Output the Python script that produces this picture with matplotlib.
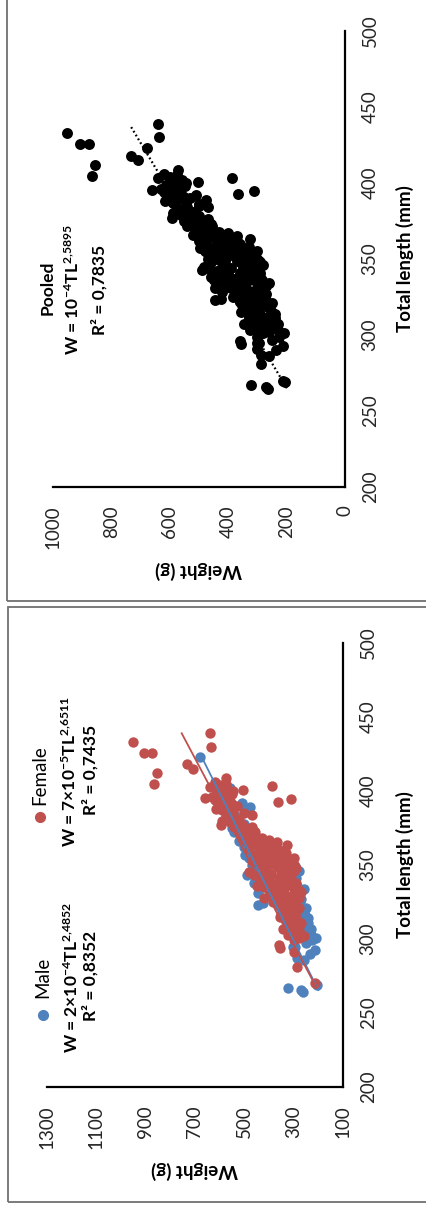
import matplotlib
matplotlib.use('Agg')
import matplotlib.pyplot as plt
from matplotlib.patches import Rectangle
from matplotlib.lines import Line2D

plt.rcParams['font.family'] = ['Lato', 'DejaVu Sans']
plt.rcParams['mathtext.default'] = 'regular'

# ---------------- data (length in mm, weight in g) ----------------
female_L = [433, 425.5, 425.5, 412, 404.6, 418, 415, 439, 430, 408.6, 400.4, 403.5, 392.6,
            394.7, 395.4, 376.8, 365.3, 363.2,
            406, 404, 403, 401, 399, 398, 396, 395, 393, 392, 390, 389, 388, 386, 385, 384,
            382, 381, 380, 378, 377, 376, 374, 373, 372, 370, 369, 368, 367, 366, 365, 364, 363,
            361, 360, 360, 359, 358, 357, 356, 355, 355, 354, 353, 352, 351, 350, 349, 348, 347,
            346, 345, 344, 343, 342, 341,
            340, 339, 338, 337, 336, 335, 334, 333, 332, 331, 330, 329, 328, 327, 326, 325, 324,
            323, 322, 321, 320,
            318, 317, 315, 314, 312, 311, 309, 307, 305, 303, 301, 299, 296,
            294, 281, 270, 291,
            405, 402, 400, 397, 394, 391, 387, 383, 381, 379,
            379, 376, 375, 373, 371, 369, 367, 366, 364, 362, 361, 362,
            359, 358, 357, 356, 355, 354, 353, 352, 351, 350, 349, 348, 347, 346, 345, 344, 343,
            342, 341,
            339, 338, 337, 336, 335, 334, 333, 332, 331, 330, 329, 328, 327, 326, 325, 324, 322,
            321,
            319, 316, 313, 310, 308, 306, 304, 302]
female_W = [953, 908, 876, 856, 867, 733, 708, 641, 636, 573, 504, 386, 365,
            311, 660, 594, 369, 327,
            620, 598, 640, 575, 612, 548, 630, 585, 560, 605, 530, 575, 615, 545, 500, 470,
            560, 520, 590, 545, 505, 470, 530, 490, 455, 515, 475, 430, 400, 495, 450, 420, 390,
            480, 440, 360, 410, 330, 460, 385, 300, 430, 350, 470, 405, 320, 440, 370, 290, 415,
            340, 483, 390, 310, 440, 360,
            420, 330, 290, 380, 450, 350, 300, 400, 270, 340, 375, 310, 420, 350, 290, 385, 330,
            300, 360, 280, 340,
            310, 350, 355, 290, 330, 270, 310, 345, 290, 325, 280, 300, 360,
            355, 288, 213, 300,
            575, 600, 545, 590, 620, 550, 590, 575, 540, 520,
            560, 540, 500, 460, 480, 510, 450, 420, 470, 440, 410, 370,
            380, 440, 350, 410, 370, 320, 440, 380, 350, 300, 410, 360, 330, 300, 420, 350, 460,
            330, 400,
            360, 410, 300, 330, 420, 370, 280, 350, 390, 300, 350, 280, 320, 370, 300, 350, 320,
            300,
            290, 320, 310, 290, 330, 280, 300, 260]

male_L = [423, 402, 396, 389, 384, 378, 372, 366, 357, 350, 343, 338, 331, 324, 323,
          353, 349, 345, 340, 336, 330, 325, 319.6, 318.5, 314, 309.5, 305, 303, 299, 297,
          294.8, 294.6, 292.6, 290, 287, 286, 269, 267, 265.5, 264.4,
          398, 392, 386, 380, 375, 369, 362, 355, 348, 346, 341, 334, 327, 321, 316, 311,
          307, 301]
male_W = [679, 558, 600, 477, 540, 500, 540, 520, 497, 470, 490, 460, 445, 424, 445,
          355, 295, 300, 308, 285, 290, 275, 266, 262, 240, 267, 250, 230, 226, 250,
          295, 303, 213, 235, 288, 260, 207, 321, 270, 262,
          570, 510, 500, 540, 550, 500, 500, 480, 460, 280, 290, 260, 270, 250, 255, 240,
          230, 210]

pooled_L = male_L + female_L
pooled_W = male_W + female_W

# trend lines (end points)
pooled_trend_L = [265, 438]
pooled_trend_W = [199, 736]
female_trend_L = [267, 439]
female_trend_W = [207, 754]
male_trend_L = [265.5, 423]
male_trend_W = [200, 673]

length_ticks = [200, 250, 300, 350, 400, 450, 500]
weight_ticks_pooled = [0, 200, 400, 600, 800, 1000]
weight_ticks_sex = [100, 300, 500, 700, 900, 1100, 1300]

male_label = 'Male'
female_label = 'Female'
male_eq = r'W = 2×10$^{-4}$TL$^{2{,}4852}$'
male_r2 = 'R² = 0,8352'
female_eq = r'W = 7×10$^{-5}$TL$^{2{,}6511}$'
female_r2 = 'R² = 0,7435'
pooled_lines = ['Pooled', r'W = 10$^{-4}$TL$^{2{,}5895}$', 'R² = 0,7835']

BLUE = '#4F81BD'
RED = '#C0504D'

# ---------------- figure ----------------
W_PX, H_PX = 427, 1214
fig = plt.figure(figsize=(W_PX / 100, H_PX / 100), dpi=100)


def fx(px):
    return px / W_PX


def fy(py):
    return 1 - py / H_PX


# panel frames
for (x0, y0, x1, y1) in [(7, -10, 440, 601), (8, 607, 440, 1202)]:
    fig.add_artist(Rectangle((fx(x0), fy(y1)), fx(x1) - fx(x0), fy(y0) - fy(y1),
                             transform=fig.transFigure, fill=False,
                             edgecolor='#707070', linewidth=1.3))

ax1 = fig.add_axes([fx(53), fy(487), fx(345) - fx(53), fy(31) - fy(487)])
ax2 = fig.add_axes([fx(47), fy(1087), fx(343) - fx(47), fy(643) - fy(1087)])

TICK_FS = 13.5
LAB_FS = 13.5


def style(ax, wlim, wticks):
    ax.set_xlim(*wlim)
    ax.set_ylim(200, 500)
    ax.set_xticks(wticks)
    ax.set_yticks(length_ticks)
    ax.yaxis.tick_right()
    ax.patch.set_alpha(0)
    for s in ['top', 'left']:
        ax.spines[s].set_visible(False)
    for s in ['bottom', 'right']:
        ax.spines[s].set_linewidth(1.6)
        ax.spines[s].set_color('black')
    ax.tick_params(axis='x', length=0, pad=13, labelsize=TICK_FS, labelrotation=90,
                   colors='#262626')
    ax.tick_params(axis='y', length=0, pad=12, labelsize=TICK_FS, labelrotation=90,
                   colors='#262626')
    plt.setp(ax.get_yticklabels(), va='center')
    ax.set_xlabel('Weight (g)', fontsize=LAB_FS, fontweight='bold', rotation=180)
    ax.xaxis.label.set_va('center')
    ax.yaxis.set_label_position('right')
    ax.set_ylabel('Total length (mm)', fontsize=LAB_FS, fontweight='bold', rotation=90)
    ax.yaxis.label.set_va('center')
    ax.yaxis.label.set_ha('center')


style(ax1, (1000, 0), weight_ticks_pooled)
style(ax2, (1300, 100), weight_ticks_sex)
ax1.xaxis.set_label_coords(0.5, (487 - 570) / 456)
ax1.yaxis.set_label_coords((405 - 53) / 292, 0.5)
ax2.xaxis.set_label_coords(0.5, (1087 - 1170) / 444)
ax2.yaxis.set_label_coords((405 - 47) / 296, 0.5)

# pooled panel
ax1.scatter(pooled_W, pooled_L, s=62, c='black', linewidths=0, zorder=2)
ax1.plot(pooled_trend_W, pooled_trend_L, color='black', linewidth=1.6,
         linestyle=(0, (0.8, 1.2)), zorder=3)

# sex panel
ax2.scatter(male_W, male_L, s=56, c=BLUE, linewidths=0, zorder=2)
ax2.scatter(female_W, female_L, s=56, c=RED, linewidths=0, zorder=3)
ax2.plot(male_trend_W, male_trend_L, color=BLUE, linewidth=1.3, zorder=4)
ax2.plot(female_trend_W, female_trend_L, color=RED, linewidth=1.3, zorder=4)

# annotation (pooled)
TXT_FS = 12.5
for (px, py), t in zip([(48, 288), (73, 290), (99, 290)], pooled_lines):
    fig.text(fx(px), fy(py), t, rotation=90, ha='center', va='center',
             fontsize=TXT_FS, fontweight='bold', color='black')

# legend-like labels (sex panel)
fig.add_artist(Line2D([fx(43)], [fy(1015)], marker='o', markersize=7, color=BLUE,
                      linestyle='none', transform=fig.transFigure))
fig.add_artist(Line2D([fx(40)], [fy(817)], marker='o', markersize=7, color=RED,
                      linestyle='none', transform=fig.transFigure))
fig.text(fx(43), fy(977), male_label, rotation=90, ha='center', va='center',
         fontsize=TICK_FS, color='black')
fig.text(fx(40), fy(775), female_label, rotation=90, ha='center', va='center',
         fontsize=TICK_FS, color='black')
fig.text(fx(72), fy(978), male_eq, rotation=90, ha='center', va='center',
         fontsize=TXT_FS, fontweight='bold')
fig.text(fx(90), fy(976), male_r2, rotation=90, ha='center', va='center',
         fontsize=TXT_FS, fontweight='bold')
fig.text(fx(70), fy(772), female_eq, rotation=90, ha='center', va='center',
         fontsize=TXT_FS, fontweight='bold')
fig.text(fx(90), fy(770), female_r2, rotation=90, ha='center', va='center',
         fontsize=TXT_FS, fontweight='bold')

fig.savefig('out.png', dpi=100, facecolor='white')
